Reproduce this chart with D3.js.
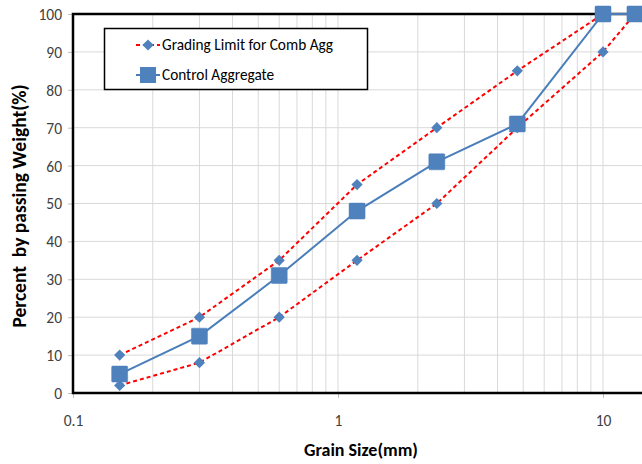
<!DOCTYPE html>
<html><head><meta charset="utf-8">
<script src="https://cdn.jsdelivr.net/npm/d3@7"></script>
<style>body{margin:0;background:#fff;} svg{display:block;font-family:Carlito,Calibri,"Liberation Sans",Arial,sans-serif;}</style>
</head><body>
<svg id="c" width="642" height="464"></svg>
<script>
const sieves = [0.15, 0.3, 0.6, 1.18, 2.36, 4.75, 10, 13.2];
const upperLimit = [10, 20, 35, 55, 70, 85, 100, 100];
const lowerLimit = [2, 8, 20, 35, 50, 70, 90, 100];
const control = [5, 15, 31, 48, 61, 71, 100, 100];
const yTicks = [0,10,20,30,40,50,60,70,80,90,100];
const xTickLabels = [0.1, 1, 10];

const FONT = "Carlito,Calibri,'Liberation Sans',sans-serif";
const svg = d3.select("#c");
const m = {l:73, t:14, b:393};
const x = d3.scaleLog().domain([0.1, 10]).range([m.l, 603]);
const y = d3.scaleLinear().domain([0, 100]).range([m.b, m.t]);
const xMaxPx = 660;

// vertical minor gridlines
const minor = [];
[0.1, 1, 10].forEach(d => { for (let k = 1; k <= 9; k++) minor.push(d * k); });
svg.append("g").selectAll("line").data(minor.filter(v => x(v) > m.l + 1 && x(v) < 642))
  .join("line").attr("x1", d => x(d)).attr("x2", d => x(d)).attr("y1", m.t).attr("y2", m.b)
  .attr("stroke", "#d9d9d9").attr("stroke-width", 1);
// horizontal gridlines
svg.append("g").selectAll("line").data(yTicks.slice(1))
  .join("line").attr("x1", m.l).attr("x2", xMaxPx).attr("y1", d => y(d)).attr("y2", d => y(d))
  .attr("stroke", "#d9d9d9").attr("stroke-width", 1);

// axes
const yAxis = d3.axisLeft(y).tickValues(yTicks).tickSize(5).tickPadding(6);
const gy = svg.append("g").attr("transform", `translate(${m.l},0)`).call(yAxis);
gy.select(".domain").remove();
gy.selectAll(".tick line").attr("stroke", "#bfbfbf");
gy.selectAll("text").attr("font-size", 15.5).attr("fill", "#404040").attr("dy", "0.35em")
  .attr("font-family", FONT);

const xAxis = d3.axisBottom(x).tickValues(xTickLabels).tickFormat(d3.format("~g")).tickSize(5).tickPadding(17);
const gx = svg.append("g").attr("transform", `translate(0,${m.b})`).call(xAxis);
gx.select(".domain").remove();
gx.selectAll(".tick line").attr("stroke", "#bfbfbf");
gx.selectAll("text").attr("font-size", 15.5).attr("fill", "#404040")
  .attr("font-family", FONT);

// frame
svg.append("path").attr("d", `M${xMaxPx},${m.t}H${m.l}V${m.b}H${xMaxPx}`)
  .attr("fill", "none").attr("stroke", "#000").attr("stroke-width", 2.5);

const line = d3.line().x(d => x(d[0])).y(d => y(d[1]));
const up = sieves.map((s, i) => [s, upperLimit[i]]);
const lo = sieves.map((s, i) => [s, lowerLimit[i]]);
const co = sieves.map((s, i) => [s, control[i]]);

[up, lo].forEach(data => {
  svg.append("path").datum(data).attr("d", line).attr("fill", "none")
    .attr("stroke", "#ff0000").attr("stroke-width", 2).attr("stroke-dasharray", "4,3");
});
svg.append("path").datum(co).attr("d", line).attr("fill", "none")
  .attr("stroke", "#4a7ebb").attr("stroke-width", 2);

const diamond = d3.symbol().type(d3.symbolDiamond2).size(80);
[up, lo].forEach(data => {
  svg.append("g").selectAll("path").data(data).join("path")
    .attr("d", diamond).attr("transform", d => `translate(${x(d[0])},${y(d[1])})`)
    .attr("fill", "#4f81bd");
});
svg.append("g").selectAll("rect").data(co).join("rect")
  .attr("x", d => x(d[0]) - 8).attr("y", d => y(d[1]) - 8).attr("width", 16).attr("height", 16)
  .attr("rx", 1).attr("fill", "#4f81bd").attr("stroke", "#4a7ebb").attr("stroke-width", 0.5);

// legend
const lg = svg.append("g");
lg.append("rect").attr("x", 104.5).attr("y", 28.5).attr("width", 263).attr("height", 61)
  .attr("fill", "#fff").attr("stroke", "#000").attr("stroke-width", 1.5);
lg.append("line").attr("x1", 136).attr("x2", 160).attr("y1", 45).attr("y2", 45)
  .attr("stroke", "#ff0000").attr("stroke-width", 2).attr("stroke-dasharray", "4,3");
lg.append("path").attr("d", diamond).attr("transform", "translate(148,45)").attr("fill", "#4f81bd");
lg.append("line").attr("x1", 136).attr("x2", 160).attr("y1", 75).attr("y2", 75)
  .attr("stroke", "#4a7ebb").attr("stroke-width", 2);
lg.append("rect").attr("x", 140).attr("y", 67).attr("width", 16).attr("height", 16).attr("fill", "#4f81bd");
lg.append("text").attr("x", 162).attr("y", 45).attr("dy", "0.35em").attr("font-size", 15.3)
  .attr("fill", "#000").attr("font-family", FONT)
  .text("Grading Limit for Comb Agg");
lg.append("text").attr("x", 162).attr("y", 75).attr("dy", "0.35em").attr("font-size", 15.3)
  .attr("fill", "#000").attr("font-family", FONT)
  .text("Control Aggregate");

// axis titles
svg.append("text").attr("x", 361).attr("y", 450).attr("dy", "0.35em").attr("text-anchor", "middle")
  .attr("font-size", 18).attr("font-weight", "bold").attr("fill", "#000")
  .attr("font-family", FONT).text("Grain Size(mm)");
svg.append("text").attr("transform", "translate(19,206) rotate(-90)").attr("dy", "0.35em").attr("text-anchor", "middle")
  .attr("font-size", 19.5).attr("font-weight", "bold").attr("fill", "#000")
  .attr("font-family", FONT).style("white-space", "pre").text("Percent  by passing Weight(%)");
</script>
</body></html>
